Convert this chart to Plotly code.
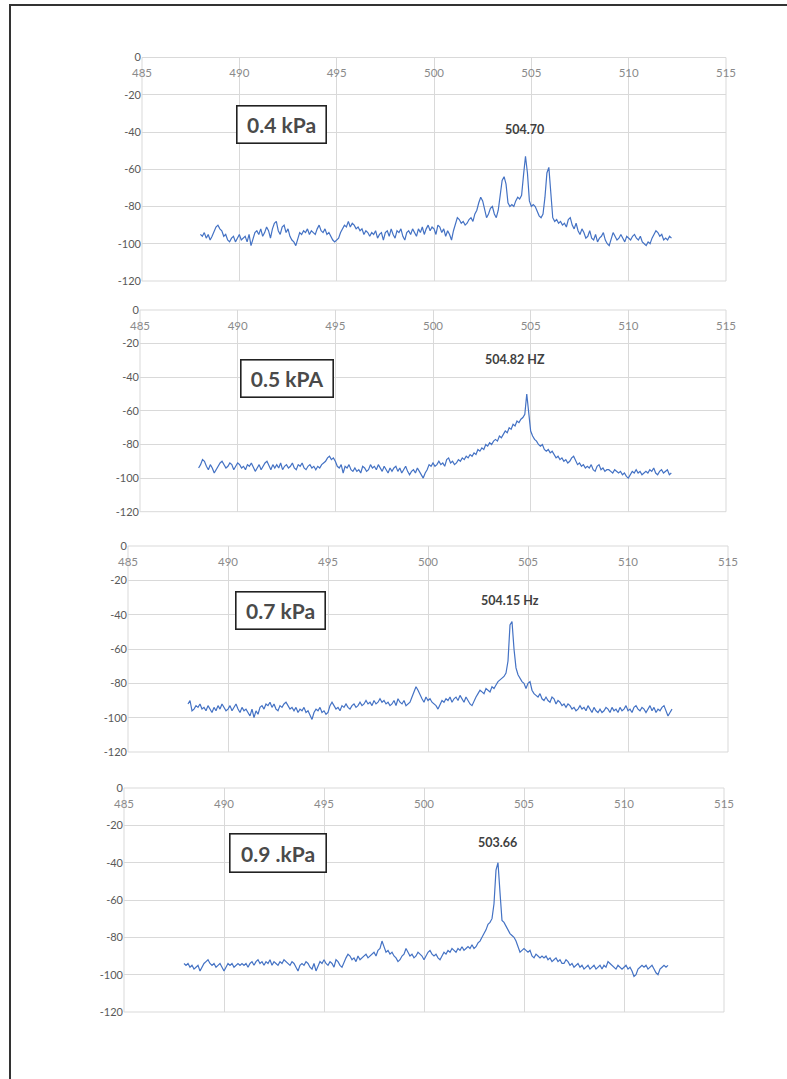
import plotly.graph_objects as go

# frequency bins (Hz)
freq_start = 488.0
freq_step = 0.1
n_bins = 243
freq = [round(freq_start + i * freq_step, 1) for i in range(n_bins)]

# spectra (dB), 0.1 Hz bins from 488.0 to 512.2
amp_04 = [
    -95, -96, -94, -97, -95, -98, -96, -93, -91, -90,
    -92, -93, -96, -95, -98, -99, -97, -96, -99, -97,
    -95, -98, -97, -96, -99, -95, -101, -97, -94, -93,
    -95, -92, -96, -94, -91, -93, -97, -92, -89, -88,
    -93, -95, -91, -90, -94, -92, -96, -98, -99, -101,
    -98, -94, -95, -93, -94, -92, -95, -93, -94, -95,
    -92, -90, -93, -94, -92, -95, -94, -96, -98, -99,
    -98, -97, -94, -92, -90, -91, -88, -91, -89, -90,
    -92, -91, -93, -92, -95, -93, -94, -96, -94, -95,
    -93, -97, -95, -94, -98, -94, -93, -96, -92, -95,
    -97, -93, -94, -92, -96, -98, -94, -93, -95, -92,
    -94, -96, -92, -94, -91, -95, -92, -90, -93, -91,
    -92, -95, -90, -91, -94, -92, -96, -93, -95, -98,
    -93, -90, -86, -87, -89, -88, -90, -89, -87, -86,
    -88, -84, -82, -78, -75, -77, -82, -86, -84, -81,
    -80, -84, -86, -82, -74, -66, -64, -68, -78, -80,
    -79, -80, -77, -75, -76, -74, -63, -53, -62, -77,
    -80, -79, -80, -83, -85, -86, -84, -75, -62, -59,
    -72, -86, -88, -87, -89, -88, -90, -89, -91, -87,
    -86, -90, -92, -89, -93, -95, -92, -94, -97, -96,
    -93, -97, -98, -95, -99, -97, -96, -94, -98, -100,
    -101, -97, -94, -96, -98, -97, -95, -97, -99, -96,
    -97, -98, -96, -95, -97, -98, -96, -99, -100, -101,
    -99, -100, -97, -95, -93, -94, -96, -95, -98, -97,
    -98, -96, -97,
]

amp_05 = [
    -94, -92, -89, -90, -93, -95, -92, -94, -97, -95,
    -93, -91, -90, -92, -94, -93, -91, -92, -95, -93,
    -91, -92, -94, -93, -95, -92, -93, -91, -94, -96,
    -94, -92, -95, -93, -91, -90, -93, -95, -92, -94,
    -92, -94, -91, -95, -93, -92, -94, -93, -91, -94,
    -95, -92, -93, -91, -94, -95, -93, -92, -94, -93,
    -95, -93, -94, -92, -91, -90, -88, -87, -89, -88,
    -90, -93, -94, -92, -97, -93, -94, -92, -95, -96,
    -94, -96, -95, -97, -93, -94, -96, -95, -92, -94,
    -93, -95, -92, -94, -96, -93, -95, -97, -94, -96,
    -94, -93, -96, -94, -97, -95, -93, -96, -98, -96,
    -95, -97, -94, -96, -98, -100, -97, -95, -92, -93,
    -91, -93, -92, -90, -92, -91, -93, -89, -88, -91,
    -90, -92, -91, -89, -90, -88, -89, -87, -88, -86,
    -87, -85, -86, -83, -84, -82, -83, -80, -81, -79,
    -80, -78, -77, -78, -75, -76, -74, -72, -73, -70,
    -71, -68, -69, -66, -67, -65, -64, -62, -50, -61,
    -72, -75, -77, -78, -80, -81, -80, -83, -84, -83,
    -85, -84, -86, -88, -87, -89, -88, -90, -89, -91,
    -90, -88, -87, -90, -92, -91, -93, -92, -94, -93,
    -94, -92, -95, -96, -93, -92, -95, -94, -96, -95,
    -95, -96, -97, -95, -96, -97, -96, -98, -97, -99,
    -100, -98, -96, -97, -95, -97, -96, -98, -97, -96,
    -97, -95, -96, -94, -97, -98, -96, -95, -97, -96,
    -95, -98, -97,
]

amp_07 = [
    -92, -90, -96, -95, -93, -94, -92, -95, -94, -96,
    -93, -95, -97, -94, -96, -93, -95, -92, -94, -96,
    -95, -93, -96, -94, -92, -95, -97, -94, -96, -95,
    -97, -99, -95, -100, -96, -98, -94, -93, -95, -92,
    -93, -91, -94, -92, -95, -96, -93, -94, -92, -91,
    -93, -95, -94, -96, -94, -97, -95, -96, -94, -97,
    -96, -99, -101, -97, -95, -96, -94, -97, -96, -98,
    -97, -93, -91, -93, -95, -94, -96, -93, -94, -92,
    -94, -95, -93, -92, -94, -93, -91, -93, -92, -90,
    -92, -91, -93, -90, -92, -91, -89, -91, -90, -92,
    -91, -93, -92, -90, -93, -89, -91, -92, -90, -93,
    -92, -91, -88, -85, -82, -84, -87, -89, -91, -88,
    -90, -89, -91, -92, -93, -95, -92, -90, -91, -89,
    -90, -88, -91, -89, -88, -90, -87, -89, -91, -88,
    -90, -92, -93, -90, -88, -86, -84, -85, -86, -83,
    -84, -85, -82, -83, -81, -79, -78, -77, -76, -74,
    -67, -46, -44, -60, -71, -75, -77, -79, -80, -83,
    -80, -79, -84, -86, -87, -88, -86, -89, -90, -88,
    -90, -91, -88, -89, -92, -90, -91, -93, -92, -94,
    -92, -93, -95, -94, -96, -95, -93, -95, -94, -96,
    -93, -95, -97, -94, -96, -97, -95, -97, -96, -94,
    -95, -97, -94, -96, -95, -97, -94, -96, -95, -93,
    -96, -95, -97, -94, -93, -95, -96, -94, -95, -97,
    -95, -93, -96, -94, -97, -95, -96, -94, -93, -96,
    -99, -97, -95,
]

amp_09 = [
    -94, -95, -94, -96, -95, -97, -96, -95, -98, -96,
    -94, -93, -92, -94, -95, -94, -96, -95, -94, -96,
    -98, -96, -94, -95, -94, -96, -95, -94, -95, -94,
    -95, -94, -96, -94, -93, -95, -93, -92, -94, -93,
    -95, -93, -94, -92, -95, -93, -94, -95, -93, -94,
    -92, -93, -94, -95, -93, -94, -96, -98, -95, -94,
    -95, -93, -94, -96, -97, -94, -98, -95, -93, -94,
    -92, -94, -95, -93, -94, -96, -92, -93, -95, -96,
    -93, -91, -89, -90, -92, -91, -93, -90, -92, -91,
    -90, -89, -91, -90, -89, -88, -90, -87, -86, -82,
    -85, -88, -87, -89, -88, -90, -91, -93, -92, -90,
    -89, -86, -88, -90, -89, -91, -90, -88, -89, -90,
    -92, -90, -88, -87, -89, -90, -89, -91, -92, -90,
    -88, -89, -87, -88, -86, -87, -88, -86, -87, -85,
    -87, -86, -85, -86, -84, -86, -85, -83, -82, -80,
    -78, -76, -73, -72, -70, -62, -44, -40, -56, -71,
    -72, -74, -76, -78, -79, -80, -82, -85, -88, -87,
    -86, -87, -88, -87, -90, -91, -89, -90, -91, -90,
    -91, -90, -92, -91, -93, -92, -91, -93, -92, -94,
    -94, -92, -93, -95, -94, -96, -95, -94, -96, -95,
    -97, -96, -95, -97, -96, -95, -97, -96, -95, -97,
    -95, -96, -93, -94, -95, -96, -97, -95, -96, -97,
    -96, -95, -97, -96, -98, -101, -100, -97, -96, -95,
    -96, -95, -97, -96, -95, -97, -99, -100, -97, -96,
    -95, -96, -95,
]

series = [amp_04, amp_05, amp_07, amp_09]
box_labels = ["0.4 kPa", "0.5 kPA", "0.7 kPa", "0.9 .kPa"]
peak_labels = ["504.70", "504.82 HZ", "504.15 Hz", "503.66"]
peak_label_pos = [(504.67, -38.5), (504.2, -29.7), (504.1, -32.0), (503.65, -29.0)]
box_label_pos = [(492.17, -36.0), (492.5, -40.7), (492.6, -37.3), (492.7, -35.0)]

x_ticks = [485, 490, 495, 500, 505, 510, 515]
y_ticks = [0, -20, -40, -60, -80, -100, -120]
y_ticktext = ["0", "-20", "-40", "-60", "-80", "-100", "-120"]

W, H = 787, 1079
# panel pixel boxes: (left, right, top, bottom)
panels = [(142, 726, 57.5, 281), (140, 726, 310, 511.7), (128, 728, 546, 752), (124, 724, 788, 1012)]
box_sizes = [(80, 28), (83, 28), (80, 28), (87, 29)]
XLAB_DROP = 22

fig = go.Figure()
layout = dict(
    width=W, height=H, autosize=False,
    margin=dict(l=0, r=0, t=0, b=0, pad=0),
    paper_bgcolor="white", plot_bgcolor="white",
    showlegend=False,
    font=dict(family="Lato, Open Sans, sans-serif", color="#595959"),
)
annotations = []
shapes = []
for i, (amp, (l, r, t, b)) in enumerate(zip(series, panels)):
    n = "" if i == 0 else str(i + 1)
    fig.add_trace(go.Scatter(
        x=freq, y=amp, mode="lines",
        line=dict(color="#4472C4", width=1.2),
        xaxis="x" + n, yaxis="y" + n,
    ))
    layout["xaxis" + n] = dict(
        domain=[l / W, r / W], range=[485, 515], tickvals=x_ticks,
        side="top", anchor="free", position=1 - (t + XLAB_DROP) / H,
        ticks="", showline=False, automargin=False,
        showgrid=True, gridcolor="#d9d9d9", gridwidth=1, zeroline=False,
        tickfont=dict(size=11.5, color="#8a8a8a", family="Lato, sans-serif"),
        fixedrange=True,
    )
    layout["yaxis" + n] = dict(
        domain=[1 - b / H, 1 - t / H], range=[-120, 0],
        tickvals=y_ticks, ticktext=y_ticktext,
        ticks="", ticklabelstandoff=0, automargin=False,
        showgrid=True, gridcolor="#d9d9d9", gridwidth=1,
        showline=False, zeroline=False,
        tickfont=dict(size=11, color="#595959", family="Lato, sans-serif"),
        anchor="x" + n, fixedrange=True,
    )
    # plot-area frame
    shapes.append(dict(
        type="rect", xref="x" + n + " domain", yref="y" + n + " domain",
        x0=0, x1=1, y0=0, y1=1, layer="below",
        line=dict(color="#d9d9d9", width=1), fillcolor="rgba(0,0,0,0)",
    ))
    bx, by = box_label_pos[i]
    bw, bh = box_sizes[i]
    annotations.append(dict(
        x=bx, y=by, xref="x" + n, yref="y" + n, text="<b>" + box_labels[i] + "</b>",
        showarrow=False, font=dict(size=21, color="#4a4a4a", family="Lato, sans-serif"),
        width=bw, height=bh,
        bordercolor="#222222", borderwidth=1.6, borderpad=4, bgcolor="white",
    ))
    px_, py_ = peak_label_pos[i]
    annotations.append(dict(
        x=px_, y=py_, xref="x" + n, yref="y" + n, text="<b>" + peak_labels[i] + "</b>",
        showarrow=False, font=dict(size=12.5, color="#404040", family="Lato, sans-serif"),
    ))
layout["annotations"] = annotations
shapes.append(dict(
    type="rect", xref="paper", yref="paper",
    x0=10 / W, x1=1.02, y0=-0.02, y1=1 - 5 / H,
    line=dict(color="#333333", width=2), fillcolor="rgba(0,0,0,0)",
))
layout["shapes"] = shapes
fig.update_layout(**layout)
fig.write_html(
    "out.html",
    config={"displayModeBar": False},
    post_script="document.body.style.margin='0';document.body.style.overflow='hidden';",
)
